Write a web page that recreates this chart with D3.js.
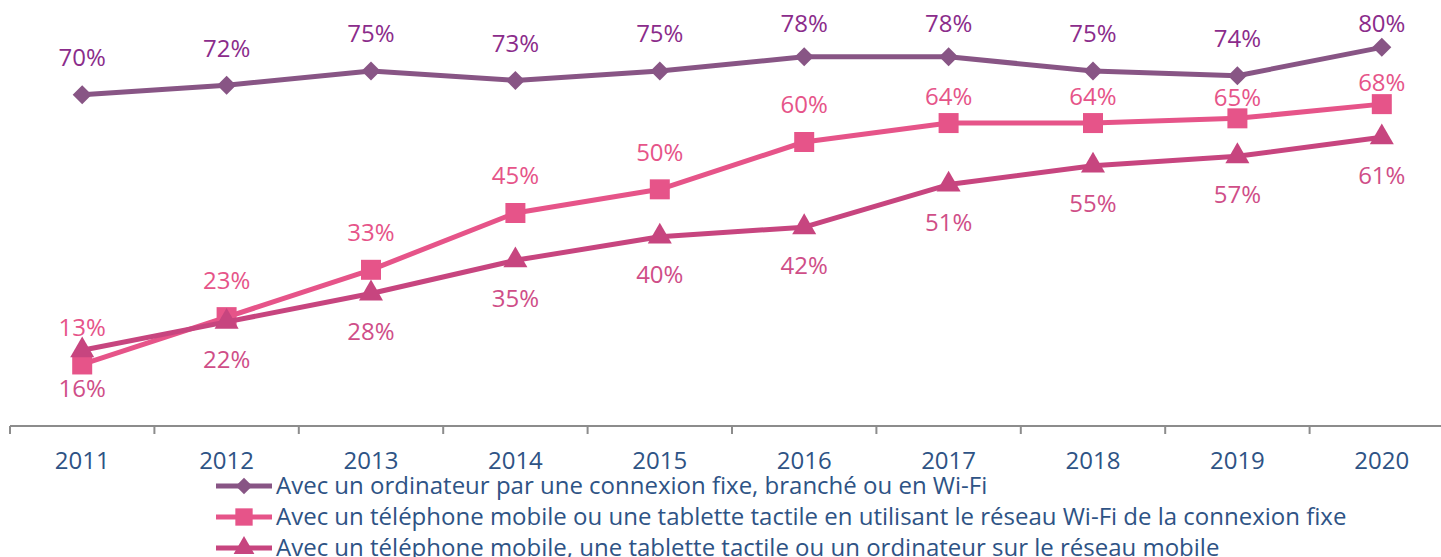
<!DOCTYPE html>
<html><head><meta charset="utf-8">
<script src="https://cdn.jsdelivr.net/npm/d3@7"></script>
<style>
html,body{margin:0;padding:0;background:#fff;}
svg{display:block;font-family:"Open Sans",sans-serif;}
</style></head>
<body>
<svg id="chart" width="1441" height="557"></svg>
<script>
const years = ["2011","2012","2013","2014","2015","2016","2017","2018","2019","2020"];
const fixedComputer = [70,72,75,73,75,78,78,75,74,80];
const mobileWifi = [13,23,33,45,50,60,64,64,65,68];
const mobileNetwork = [16,22,28,35,40,42,51,55,57,61];
const seriesNames = [
  "Avec un ordinateur par une connexion fixe, branché ou en Wi-Fi",
  "Avec un téléphone mobile ou une tablette tactile en utilisant le réseau Wi-Fi de la connexion fixe",
  "Avec un téléphone mobile, une tablette tactile ou un ordinateur sur le réseau mobile"
];
// label nudges (px, downward) for crowded square labels
const mobileWifiLabelNudge = [0,0,0,0,0,0,11,11,16,15];

const series = [
  {name: seriesNames[0], values: fixedComputer, color:"#885585", label:"#8B2C8B", symbol:d3.symbolDiamond2, size:230, above:true, nudge:null},
  {name: seriesNames[1], values: mobileWifi, color:"#E65489", label:"#E65489", symbol:d3.symbolSquare, size:400, above:true, nudge:mobileWifiLabelNudge},
  {name: seriesNames[2], values: mobileNetwork, color:"#C7457F", label:"#CF4E88", symbol:d3.symbolTriangle, size:250, above:false, nudge:null}
];

const svg = d3.select("#chart");
const x = d3.scaleBand().domain(years).range([10, 1454]).padding(0);
const y = d3.scaleLinear().domain([0, 90]).range([426, 0]);

// axis
const axisG = svg.append("g").attr("transform","translate(0,426)");
axisG.append("line").attr("x1",10).attr("x2",1441).attr("y1",0).attr("y2",0)
  .attr("stroke","#8c8c8c").attr("stroke-width",2);
const bounds = years.map(d => x(d));
axisG.selectAll("line.tick").data(bounds).join("line").attr("class","tick")
  .attr("x1",d=>d).attr("x2",d=>d).attr("y1",0).attr("y2",8)
  .attr("stroke","#8c8c8c").attr("stroke-width",2);
axisG.selectAll("text").data(years).join("text")
  .attr("x",d=>x(d)+x.bandwidth()/2).attr("y",35)
  .attr("dy","0.35em")
  .attr("text-anchor","middle").attr("fill","#2E5385")
  .attr("font-size",24).text(d=>d);

const cx = d => x(d) + x.bandwidth()/2;
const line = d3.line().x((v,i)=>cx(years[i])).y(v=>y(v));

series.forEach(s => {
  svg.append("path").datum(s.values).attr("d", line)
    .attr("fill","none").attr("stroke", s.color).attr("stroke-width",5)
    .attr("stroke-linejoin","round");
  svg.append("g").selectAll("path").data(s.values).join("path")
    .attr("transform",(v,i)=>`translate(${cx(years[i])},${y(v)})`)
    .attr("d", d3.symbol().type(s.symbol).size(s.size)())
    .attr("fill", s.color);
});

series.forEach(s => {
  svg.append("g").selectAll("text").data(s.values).join("text")
    .attr("x",(v,i)=>cx(years[i]))
    .attr("y",(v,i)=>{
      let yy = s.above ? y(v) - 37 : y(v) + 38;
      if (s.nudge) yy += s.nudge[i];
      if (s.above) yy = Math.max(yy, 24);
      return yy;
    })
    .attr("dy","0.35em")
    .attr("text-anchor","middle").attr("fill", s.label)
    .attr("font-size",24).text(v=>v+"%");
});

// legend
const legend = svg.append("g");
series.forEach((s,i) => {
  const ly = 486 + i*31;
  legend.append("line").attr("x1",216).attr("x2",272).attr("y1",ly).attr("y2",ly)
    .attr("stroke",s.color).attr("stroke-width",5);
  legend.append("path").attr("transform",`translate(244,${ly})`)
    .attr("d", d3.symbol().type(s.symbol).size(s.size*0.75)()).attr("fill", s.color);
  legend.append("text").attr("x",276).attr("y",ly).attr("dy","0.35em")
    .attr("fill","#2E5385").attr("font-size",24).text(s.name);
});
</script>
</body></html>
